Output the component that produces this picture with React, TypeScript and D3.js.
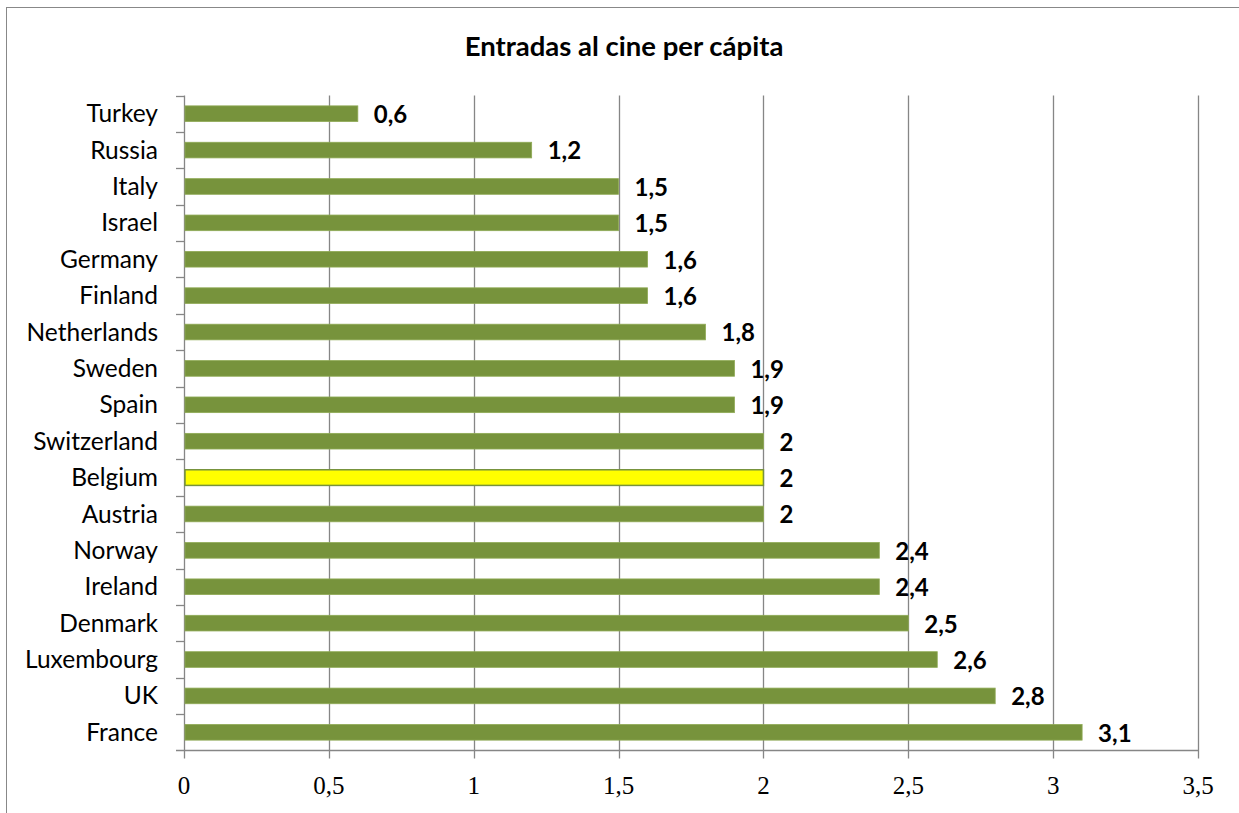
import React from "react";
import * as d3 from "d3";

const countries = ["Turkey","Russia","Italy","Israel","Germany","Finland","Netherlands","Sweden","Spain","Switzerland","Belgium","Austria","Norway","Ireland","Denmark","Luxembourg","UK","France"];
const values = [0.6,1.2,1.5,1.5,1.6,1.6,1.8,1.9,1.9,2,2,2,2.4,2.4,2.5,2.6,2.8,3.1];
const highlighted = ["Belgium"];
const xTicks = [0,0.5,1,1.5,2,2.5,3,3.5];
const title = "Entradas al cine per cápita";

export default function App() {
  const W = 1239, H = 813;
  const left = 184, right = 1198, top = 95.5, bottom = 750.5;
  const x = d3.scaleLinear().domain([0, 3.5]).range([left, right]);
  const y = d3.scaleBand().domain(countries).range([top, bottom]).paddingInner(0.57).paddingOuter(0.285);
  const band = d3.scaleBand().domain(countries).range([top, bottom]);
  const fmt = (v: number) => String(v).replace(".", ",");
  const grid = "#868686";
  return (
    <svg width={W} height={H} style={{ position: "absolute", left: 0, top: 0 }}>
      <rect x={0} y={0} width={W} height={H} fill="#fff" />
      <rect x={6.5} y={7.5} width={W + 10} height={H + 10} fill="none" stroke="#888" strokeWidth={1} />
      <text x={624} y={56} textAnchor="middle" fontFamily="Lato, 'Open Sans', sans-serif" fontWeight="bold" fontSize={27.5}>{title}</text>
      {xTicks.map((t) => (
        <g key={t}>
          <line x1={Math.round(x(t)) + 0.5} x2={Math.round(x(t)) + 0.5} y1={top} y2={bottom + 8} stroke={grid} strokeWidth={1.3} />
          <text x={x(t)} y={794} textAnchor="middle" fontFamily="'Liberation Serif', 'DejaVu Serif', serif" fontSize={25}>{fmt(t)}</text>
        </g>
      ))}
      <line x1={left - 8} x2={right} y1={bottom} y2={bottom} stroke={grid} strokeWidth={1.3} />
      {countries.map((c) => (
        <line key={"t" + c} x1={left - 8} x2={left} y1={Math.round(band(c)!) + 0.5} y2={Math.round(band(c)!) + 0.5} stroke={grid} strokeWidth={1.3} />
      ))}
      {countries.map((c, i) => {
        const hl = highlighted.includes(c);
        const cy = band(c)! + band.bandwidth() / 2;
        return (
          <g key={c}>
            <rect x={x(0) + 1} y={y(c)!} width={x(values[i]) - x(0) - 1} height={y.bandwidth()} fill={hl ? "#FFFF00" : "#77933C"} stroke={hl ? "#77933C" : "#8faa55"} strokeWidth={hl ? 1.5 : 0.8} />
            <text x={158} y={cy} dy="0.35em" textAnchor="end" fontFamily="Lato, 'Open Sans', sans-serif" fontSize={24.5}>{c}</text>
            <text x={x(values[i]) + 16} y={cy + 1} dy="0.35em" textAnchor="start" fontFamily="Lato, 'Open Sans', sans-serif" fontWeight="bold" fontSize={24}>{fmt(values[i])}</text>
          </g>
        );
      })}
    </svg>
  );
}
